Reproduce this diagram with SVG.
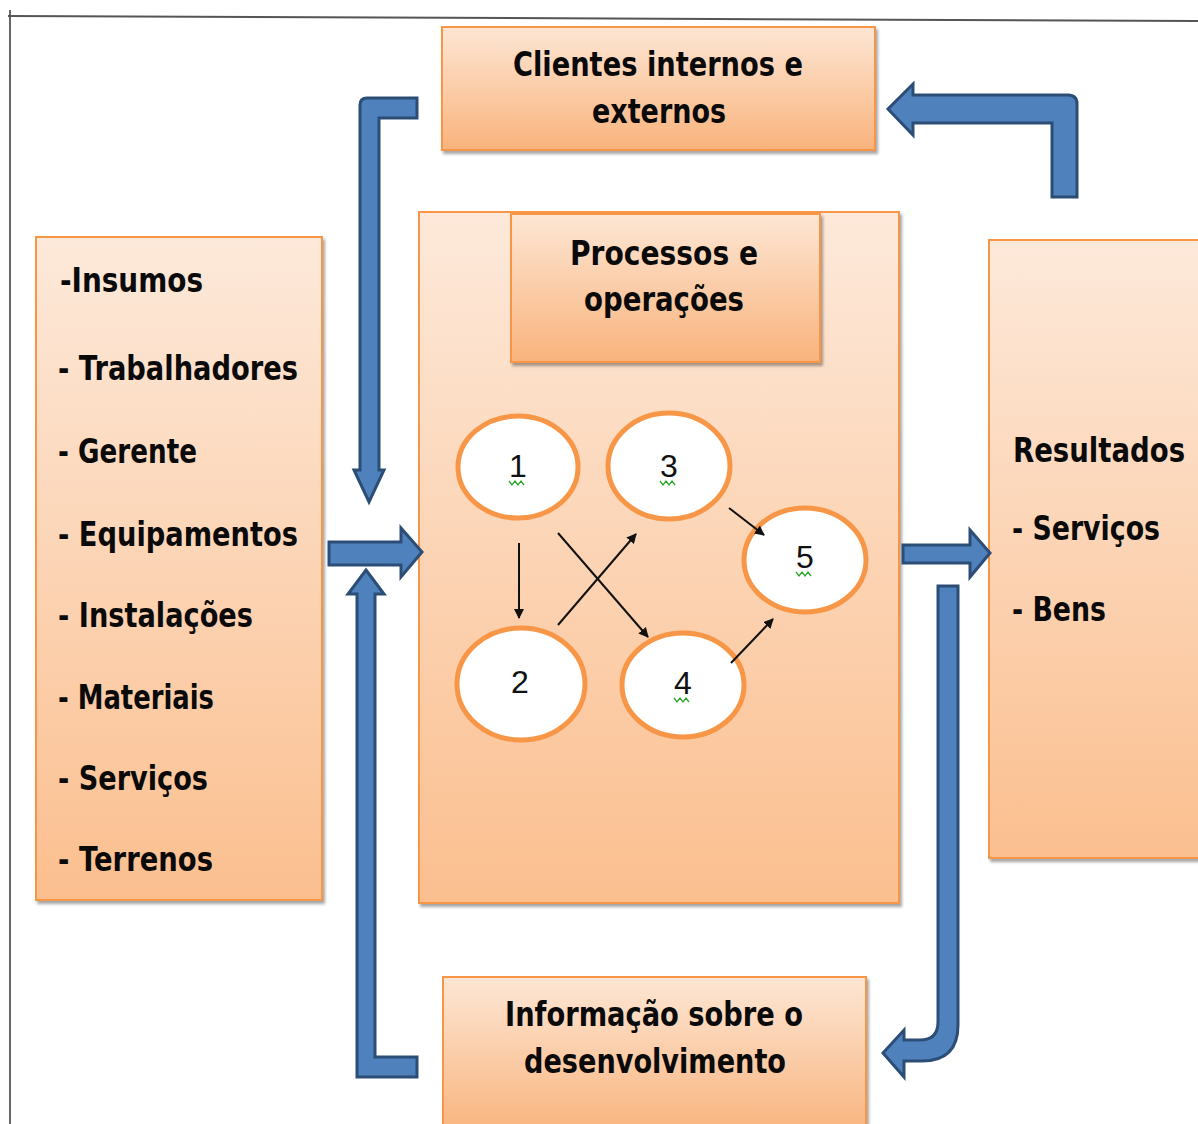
<svg xmlns="http://www.w3.org/2000/svg" width="1198" height="1124" viewBox="0 0 1198 1124">
<defs>
<linearGradient id="gBox" x1="0" y1="0" x2="0" y2="1">
<stop offset="0" stop-color="#FDE9DA"/>
<stop offset="1" stop-color="#FBBF8F"/>
</linearGradient>
<linearGradient id="gSmall" x1="0" y1="0" x2="0" y2="1">
<stop offset="0" stop-color="#FDE6D4"/>
<stop offset="1" stop-color="#F9B37C"/>
</linearGradient>
<filter id="sh" x="-5%" y="-5%" width="115%" height="115%">
<feDropShadow dx="2" dy="3" stdDeviation="1.5" flood-color="#000" flood-opacity="0.35"/>
</filter>
<marker id="ah" markerWidth="10" markerHeight="10" refX="9" refY="5" orient="auto" markerUnits="userSpaceOnUse" viewBox="0 0 10 10">
<path d="M0,0 L10,5 L0,10 Z" fill="#111"/>
</marker>
<style>
.box{stroke:#F79646;stroke-width:2;filter:url(#sh)}
.big{fill:url(#gBox)}
.small{fill:url(#gSmall)}
.t{font-family:"DejaVu Sans","Liberation Sans",sans-serif;font-weight:bold;font-size:33px;fill:#0a0a0a}
.n{font-family:"Liberation Sans",Arial,sans-serif;font-size:32px;fill:#111;text-anchor:middle}
.el{fill:#fff;stroke:#F79646;stroke-width:5}
.blue{fill:#4F81BD;stroke:#2C4D76;stroke-width:3;stroke-linejoin:miter}
.thin{stroke:#111;stroke-width:2;fill:none;marker-end:url(#ah)}
.sq{stroke:#2BA52B;stroke-width:1.3;fill:none}
</style>
</defs>
<rect width="1198" height="1124" fill="#fff"/>
<g id="frame">
<line x1="10" y1="10" x2="10" y2="1124" stroke="#666" stroke-width="2"/>
<line x1="8" y1="16" x2="1198" y2="21" stroke="#555" stroke-width="2"/>
</g>

<g id="insumos">
<rect class="box big" x="36" y="237" width="286" height="663"/>
<text class="t" x="60" y="292" textLength="143" lengthAdjust="spacingAndGlyphs">-Insumos</text>
<text class="t" x="58" y="380" textLength="240" lengthAdjust="spacingAndGlyphs">- Trabalhadores</text>
<text class="t" x="58" y="463" textLength="139" lengthAdjust="spacingAndGlyphs">- Gerente</text>
<text class="t" x="58" y="546" textLength="240" lengthAdjust="spacingAndGlyphs">- Equipamentos</text>
<text class="t" x="58" y="627" textLength="195" lengthAdjust="spacingAndGlyphs">- Instalações</text>
<text class="t" x="58" y="709" textLength="156" lengthAdjust="spacingAndGlyphs">- Materiais</text>
<text class="t" x="58" y="790" textLength="150" lengthAdjust="spacingAndGlyphs">- Serviços</text>
<text class="t" x="58" y="871" textLength="155" lengthAdjust="spacingAndGlyphs">- Terrenos</text>
</g>

<g id="clientes">
<rect class="box small" x="442" y="27" width="433" height="123"/>
<text class="t" x="513" y="76" textLength="290" lengthAdjust="spacingAndGlyphs">Clientes internos e</text>
<text class="t" x="592" y="123" textLength="134" lengthAdjust="spacingAndGlyphs">externos</text>
</g>

<g id="processos">
<rect class="box big" x="419" y="212" width="480" height="691"/>
<rect class="box small" x="511" y="214" width="309" height="148"/>
<text class="t" x="570" y="265" textLength="188" lengthAdjust="spacingAndGlyphs">Processos e</text>
<text class="t" x="584" y="311" textLength="160" lengthAdjust="spacingAndGlyphs">operações</text>
</g>

<g id="resultados">
<rect class="box big" x="989" y="240" width="212" height="618"/>
<text class="t" transform="translate(1013,462) scale(0.835,1)" x="0" y="0">Resultados</text>
<text class="t" x="1012" y="540" textLength="148" lengthAdjust="spacingAndGlyphs">- Serviços</text>
<text class="t" x="1012" y="621" textLength="94" lengthAdjust="spacingAndGlyphs">- Bens</text>
</g>

<g id="informacao">
<rect class="box small" x="443" y="977" width="423" height="160"/>
<text class="t" x="505" y="1026" textLength="298" lengthAdjust="spacingAndGlyphs">Informação sobre o</text>
<text class="t" x="524" y="1073" textLength="262" lengthAdjust="spacingAndGlyphs">desenvolvimento</text>
</g>

<g id="n1">
<ellipse class="el" cx="518" cy="467" rx="60" ry="51"/>
<text class="n" x="518" y="477">1</text>
<path class="sq" d="M509,481 l3,4 l3,-4 l3,4 l3,-4 l3,4"/>
</g>
<g id="n2">
<ellipse class="el" cx="521" cy="684" rx="64" ry="56"/>
<text class="n" x="520" y="693">2</text>
</g>
<g id="n3">
<ellipse class="el" cx="669" cy="466" rx="61" ry="53"/>
<text class="n" x="669" y="477">3</text>
<path class="sq" d="M660,481 l3,4 l3,-4 l3,4 l3,-4 l3,4"/>
</g>
<g id="n4">
<ellipse class="el" cx="683" cy="685" rx="61" ry="52"/>
<text class="n" x="683" y="694">4</text>
<path class="sq" d="M674,698 l3,4 l3,-4 l3,4 l3,-4 l3,4"/>
</g>
<g id="n5">
<ellipse class="el" cx="805" cy="560" rx="61" ry="52"/>
<text class="n" x="805" y="568">5</text>
<path class="sq" d="M796,572 l3,4 l3,-4 l3,4 l3,-4 l3,4"/>
</g>

<g id="connectors">
<line class="thin" x1="519" y1="543" x2="519" y2="618"/>
<line class="thin" x1="558" y1="625" x2="636" y2="534"/>
<line class="thin" x1="558" y1="533" x2="648" y2="637"/>
<line class="thin" x1="729" y1="508" x2="764" y2="535"/>
<line class="thin" x1="731" y1="663" x2="773" y2="619"/>

<path class="blue" d="M417,98 L367,98 Q360,98 360,105 L360,470 L354,470 L369,502 L384,470 L379,470 L379,118 L417,118 Z"/>
<path class="blue" d="M329,542 L401,542 L401,528 L422,552 L401,577 L401,565 L329,565 Z"/>
<path class="blue" d="M366,570 L384,594 L375,594 L375,1057 L417,1057 L417,1077 L357,1077 L357,594 L348,594 Z"/>
<path class="blue" d="M903,545 L970,545 L970,530 L990,553 L970,577 L970,563 L903,563 Z"/>
<path class="blue" d="M938,586 L958,586 L958,1025 Q958,1061 922,1061 L904,1061 L904,1077 L883,1053 L904,1030 L904,1040 L920,1040 Q938,1040 938,1022 Z"/>
<path class="blue" d="M1052,197 L1052,123 L913,123 L913,135 L888,109 L913,84 L913,95 L1068,95 Q1077,95 1077,104 L1077,197 Z"/>
</g>
</svg>
